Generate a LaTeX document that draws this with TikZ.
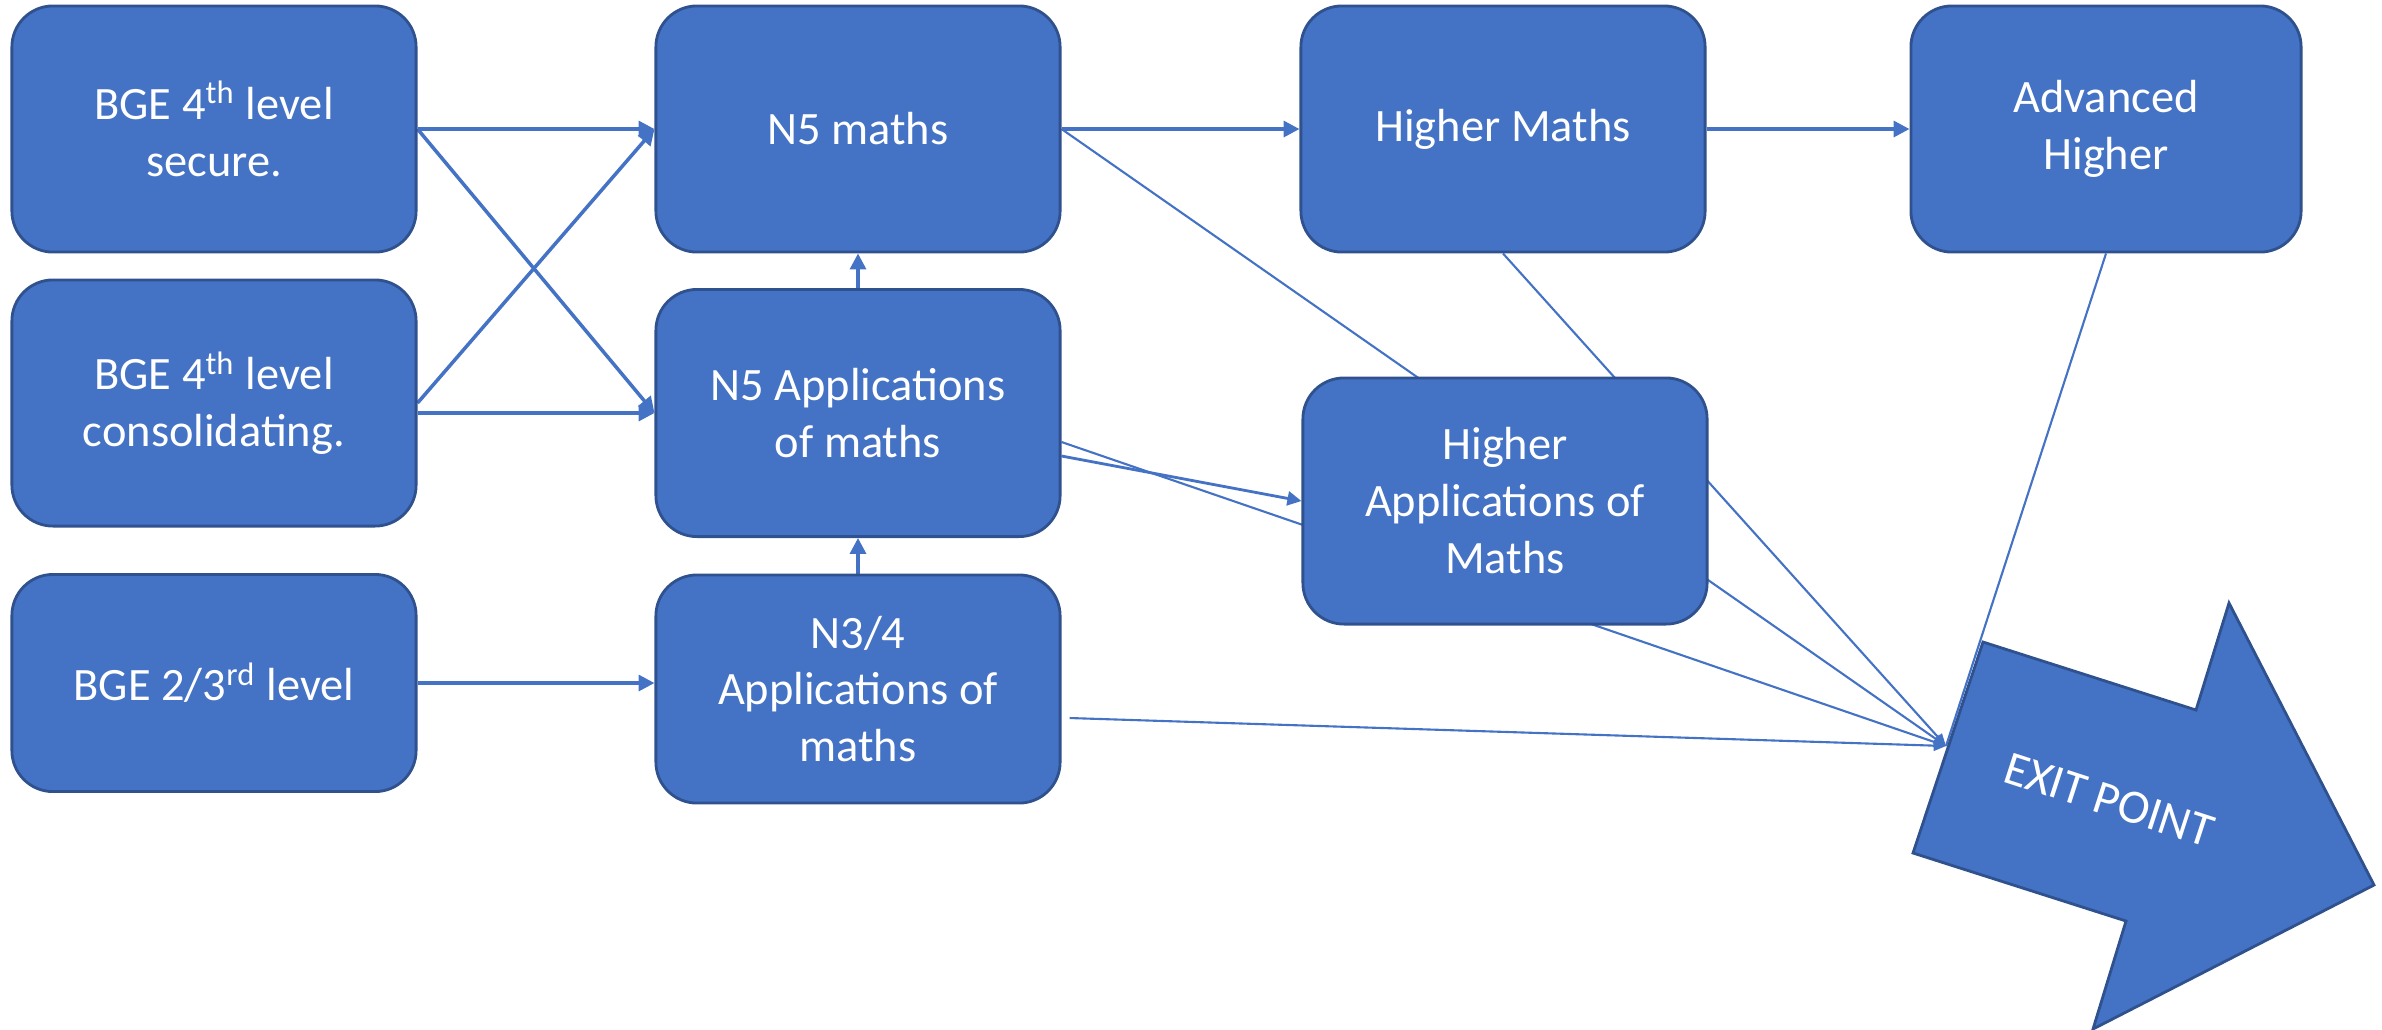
\documentclass[tikz,border=0pt]{standalone}
\usepackage{fontspec}
\setmainfont{Carlito}
\usetikzlibrary{arrows.meta,calc}
\definecolor{boxfill}{HTML}{4472C4}
\definecolor{boxline}{HTML}{2F528F}
\pgfdeclarelayer{bg}
\pgfsetlayers{bg,main}
\begin{document}
\begin{tikzpicture}[x=0.01cm,y=-0.01cm,
  box/.style={draw=boxline, line width=0.8pt, fill=boxfill, rounded corners=0.41cm,
    text=white, align=center, font=\fontsize{13.2}{16.2}\selectfont,
    minimum width=4.04cm, minimum height=2.46cm, inner sep=0pt},
  conn/.style={draw=boxfill, line width=1pt, -{Triangle[length=4.5pt,width=4.5pt]}},
  midconn/.style={draw=boxfill, line width=0.8pt, -{Triangle[length=4pt,width=4pt]}},
  exitln/.style={draw=boxfill, line width=0.6pt, -{Triangle[length=3.5pt,width=3pt]}},
  plainln/.style={draw=boxfill, line width=0.6pt}]
\useasboundingbox (0,0) rectangle (2382,1029);

\node[box] (b1) at (214,129) {BGE 4\textsuperscript{th} level\\secure.};
\node[box] (b2) at (214,403) {BGE 4\textsuperscript{th} level\\consolidating.};
\node[box, minimum height=2.17cm] (b3) at (214,683) {BGE 2/3\textsuperscript{rd} level};
\node[box] (n5) at (858,129) {N5 maths};
\node[box, minimum height=2.47cm] (n5a) at (858,413) {N5 Applications\\of maths};
\node[box, minimum height=2.28cm] (n34) at (858,689) {N3/4\\Applications of\\maths};
\node[box] (hm) at (1503,129) {Higher Maths};
\node[box] (ha) at (1505,501) {Higher\\Applications of\\Maths};
\node[box, minimum width=3.90cm] (adv) at (2106,129) {Advanced\\Higher};

\coordinate (conv) at (1946,746);
\node[text=white, rotate=-18, font=\fontsize{13.6}{16.2}\selectfont] (exittxt) at (2109,800) {EXIT POINT};

\begin{pgfonlayer}{bg}
\draw[plainln] (adv.south) -- (conv);
\filldraw[fill=boxfill, draw=boxline, line width=0.8pt]
  (1983,642) -- (2196,710) -- (2229,603) -- (2374,885) -- (2093,1029)
  -- (2126,921) -- (1913,853) -- cycle;
\draw[conn] (b1.east) -- (n5.west);
\draw[conn] (b1.east) -- (n5a.west);
\draw[conn] (b2.east) -- (n5.west);
\draw[conn] (b2.east |- n5a.west) -- (n5a.west);
\draw[conn] (b3.east) -- (b3.east -| n34.west);
\draw[conn] (n34.north) -- (n5a.south);
\draw[conn] (n5a.north) -- (n5.south);
\draw[conn] (n5.east) -- (hm.west);
\draw[conn] (hm.east) -- (adv.west);
\draw[midconn] ($(n5a.east)+(0,43)$) -- (ha.west);
\draw[exitln] (n5.east) -- (conv);
\draw[exitln] (hm.south) -- (conv);
\draw[exitln] ($(n5a.east)+(0,29)$) -- (conv);
\draw[exitln] ($(n34.east)+(8,29)$) -- (conv);
\end{pgfonlayer}
\end{tikzpicture}
\end{document}
